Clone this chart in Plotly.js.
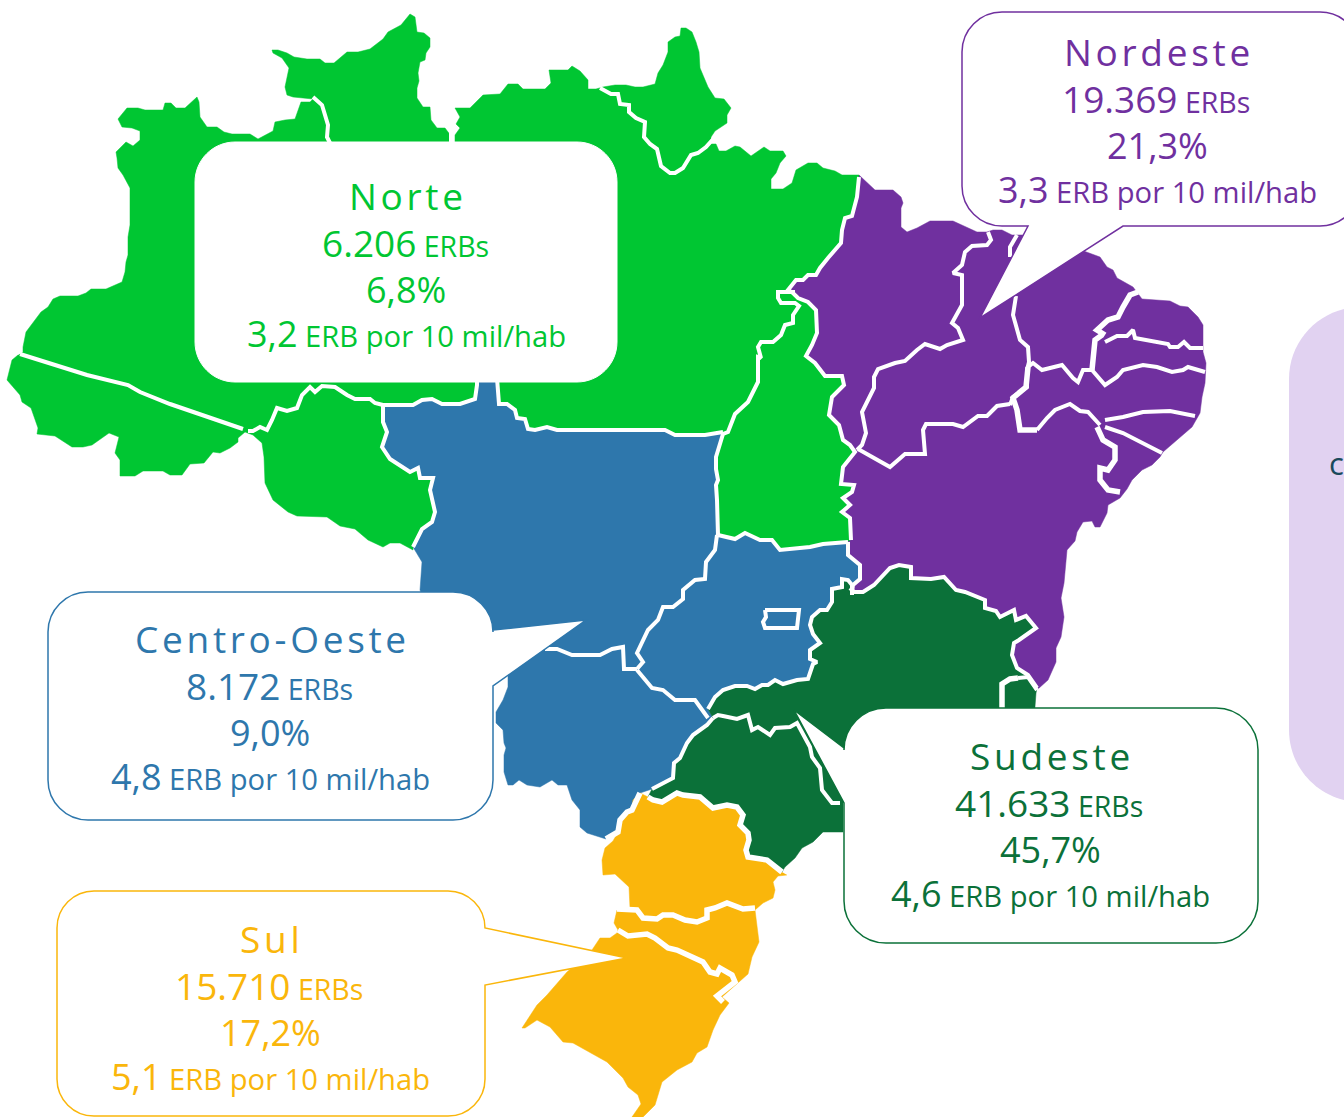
<!DOCTYPE html>
<html><head><meta charset="utf-8">
<script src="https://cdn.plot.ly/plotly-3.0.1.min.js"></script>
<style>html,body{margin:0;padding:0;background:#fff}#c{width:1344px;height:1117px}</style></head>
<body><div id="c"></div>
<script>
// ---------- statistics ----------
const regionNames = ["Norte","Nordeste","Centro-Oeste","Sudeste","Sul"];
const erbCounts   = ["6.206","19.369","8.172","41.633","15.710"];
const erbShares   = ["6,8%","21,3%","9,0%","45,7%","17,2%"];
const erbDensity  = ["3,2","3,3","4,8","4,6","5,1"];
const regionColors= ["#00C632","#70309F","#2E77AC","#0B7139","#FAB60B"];

// ---------- map outlines: flat lists x,y,x,y... ----------
const northOuter = [23,352,23,347,26,332,41,312,48,307,53,299,60,296,78,296,86,293,91,289,106,289,122,282,125,272,126,262,128,255,128,237,130,225,130,188,123,175,118,168,117,158,116,152,126,142,133,146,140,140,140,131,132,128,122,127,118,119,127,108,138,108,145,110,163,110,165,103,171,103,176,108,185,108,197,97,199,102,200,117,207,127,217,127,224,132,232,134,250,134,258,139,273,131,275,122,285,120,295,119,301,102,310,102,313,99,293,97,287,95,285,87,289,68,282,58,273,53,272,50,278,50,287,53,294,57,307,59,320,59,325,63,334,63,347,52,358,52,370,49,383,39,388,32,401,25,410,14,415,17,417,32,424,33,430,38,430,47,426,53,425,60,420,62,418,73,419,81,417,88,417,98,423,107,430,107,431,120,437,128,445,128,448,132,451,136,451,145,455,145,455,135,460,128,456,124,460,117,455,108,470,108,483,95,500,94,508,84,518,84,523,89,545,89,551,83,549,70,568,70,572,66,580,71,588,80,588,89,596,89,603,87,615,85,626,85,635,87,643,87,655,84,658,73,663,65,668,52,668,42,675,37,680,36,681,28,686,28,692,32,696,42,699,52,700,68,708,87,715,98,724,99,731,108,727,115,727,123,715,131,711,137,711,144,716,144,719,151,726,151,735,146,740,147,751,156,764,147,770,151,783,151,786,156,780,163,776,173,771,179,771,189,783,189,792,183,796,170,808,163,817,163,823,168,835,171,842,175,859,175];
const northNortheast = [859,177,857,197,852,216,845,218,842,230,841,243,828,258,820,268,816,275,808,275,803,280,796,280,788,290,793,293,798,298,808,302,816,310,817,333,812,345,806,356,815,363,825,376,842,376,844,385,832,397,829,415,839,425,843,440,850,445,855,452,843,467,841,484,854,485,852,492,843,498,850,505,842,512,850,518,851,540];
const tocantinsSouth = [848,542,823,544,810,547,795,549,780,550,772,540,760,540,745,533,735,539,718,535];
const tocantinsWest = [718,535,718,519,717,500,716,485,718,480,716,469,716,457,723,434,728,432,735,414,748,402,758,382,758,357,761,358,758,347,761,342,773,342,781,335,785,325,793,323,793,315,799,306,795,303,781,303,778,298,778,292,795,292];
const northCentralWest = [723,432,705,435,675,435,665,430,557,430,547,427,535,430,528,429,525,419,517,418,515,410,507,404,499,404,497,385,497,378,477,378,477,385,475,399,460,404,442,404,432,399,422,400,413,405,383,405,383,422,387,432,382,447,390,459,405,469,410,472,418,468,420,478,433,478,430,490,435,512,432,522,422,529,413,547];
const northSouthEdge = [413,550,408,547,400,543,390,543,383,547,368,540,355,529,340,526,327,517,297,516,288,512,273,500,265,483,264,457,262,443,253,435,245,432,238,438,238,442,230,448,220,453,213,452,204,463,190,464,182,475,170,475,163,471,143,471,135,476,120,476,120,460,115,453,119,437,109,433,92,445,83,447,72,447,55,436,37,434,38,428,31,408,22,402,20,395,7,380,12,360,18,355];
const centralWestEdge = [413,547,422,562,420,590,440,640,508,660,508,687,503,700,496,712,496,723,503,730,504,743,506,748,504,755,504,772,508,785,513,785,519,780,527,785,540,787,552,780,558,785,567,785,572,800,580,810,580,827,587,833,606,839,618,832,620,820,627,812,632,810,633,800,640,793,652,789];
const centralSoutheast = [652,789,673,778,674,763,680,758,687,743,693,735,707,725,713,718];
const goiasSoutheast = [708,709,715,697,723,690,735,686,747,686,755,689,762,685,768,685,775,680,783,684,797,680,808,679,813,664,817,662,810,659,810,650,820,643,813,634,810,625,812,617,820,610,827,610,832,602,832,589,842,587,842,579,848,580,852,585,852,595];
const goiasNortheast = [848,542,848,555,860,565,860,579,853,585,852,592];
const bahiaSouth = [850,588,854,592,863,592,874,585,890,568,899,565,911,567,911,578,931,579,944,577,956,590,965,592,985,600,985,608,996,611,1000,617,1014,610,1016,620,1026,616,1036,628,1019,640,1014,643,1012,655,1017,668,1028,675,1037,688];
const northeastCoast = [859,175,862,178,875,190,893,190,901,197,903,203,901,208,901,227,907,232,917,228,930,221,953,221,962,225,977,232,987,232,993,230,1002,230,1012,235,1040,235,1085,252,1100,257,1107,267,1113,270,1117,278,1133,287,1142,299,1170,301,1180,306,1188,307,1198,317,1203,325,1203,352,1206,363,1205,383,1202,397,1200,413,1192,427,1163,452,1160,457,1152,465,1142,470,1132,480,1127,489,1120,498,1108,505,1107,513,1100,527,1095,527,1092,521,1083,522,1077,532,1075,541,1067,550,1064,583,1061,598,1064,617,1061,637,1056,648,1056,662,1048,680,1038,689];
const southeastCoast = [1037,688,1036,693,1034,720,900,720,843,748,843,832,823,832,813,842,802,848,795,858,785,867,782,872];
const parSaoPaulo = [782,872,773,864,767,860,748,857,746,850,749,840,748,833,740,825,743,815,737,807,727,805,713,808,707,803,700,797,683,795,677,793,662,802,653,800,648,797];
const southOuter = [787,875,778,876,773,882,775,890,773,898,763,903,755,910,757,927,759,942,752,957,748,974,722,997,729,1003,720,1015,713,1030,707,1047,697,1053,692,1062,677,1070,662,1082,655,1105,643,1117,632,1117,641,1104,638,1095,628,1087,623,1078,607,1062,573,1043,563,1042,550,1027,537,1020,525,1028,522,1028,537,1005,547,995,567,972,592,950,600,938,610,938,617,933,618,930,614,923,617,910,630,908,629,887,615,874,603,875,602,860,605,848,613,841,618,832,620,820,627,812,632,810,633,800,640,793,648,797];

// ---------- internal state borders ----------
const borderAcre = [20,354,63,367,87,375,128,385,140,392,170,404,243,429];
const borderRondonia = [248,431,253,431,260,427,267,430,272,420,277,408,287,411,297,408,302,395,310,387,315,392,322,386,335,387,347,395,355,399,370,399,375,403,383,405];
const borderRoraima = [313,97,322,105,328,125,327,137,330,143];
const borderRoraimaPara = [451,133,451,145];
const borderAmapa = [600,88,611,94,618,94,620,104,629,105,629,112,636,118,645,122,644,137,650,144,657,149,661,166,670,173,675,173,683,168,691,155,698,153,706,147,715,137];
const borderMaranhao = [988,232,991,240,987,245,972,246,965,252,962,265,953,273,962,275,962,305,952,323,958,328,963,340,947,345,940,349,925,344,917,350,905,361,895,363,878,369,874,377,874,388,862,412,866,433,862,445,857,450];
const borderPiauiSouth = [858,449,875,458,890,467,905,454,925,454,923,430,926,424,953,424,963,427,978,416,987,416,997,406,1010,404];
const borderPiaui = [1016,296,1013,315,1020,340,1028,347,1029,362,1027,370,1027,387,1013,397,1010,405];
const borderCoastSliver = [1017,235,1010,247,1010,257];
const borderCearaNorth = [1138,292,1130,295,1123,307,1118,317,1108,320,1097,330,1105,335];
const borderCearaSouth = [1102,335,1095,340,1092,370];
const borderCearaPb = [1092,370,1083,370,1078,382,1073,378,1062,365,1055,367,1042,370,1033,363,1028,367];
const borderRioNorte = [1105,342,1117,336,1127,336,1133,330,1135,338,1168,344,1170,347,1178,347,1184,342,1190,348,1203,348];
const borderParaiba = [1092,370,1105,385,1117,377,1123,370,1143,365,1157,367,1172,372,1183,370,1188,367,1205,372];
const borderPernambucoWest = [1028,367,1026,387,1013,398,1017,410,1020,430,1037,430];
const borderPernambuco = [1037,430,1047,418,1055,410,1070,404,1080,411,1088,412,1100,425];
const borderAlagoasNorth = [1105,420,1123,417,1143,412,1170,411,1195,416];
const borderAlagoas = [1105,427,1123,433,1162,453];
const borderSergipe = [1097,427,1103,440,1115,447,1115,460,1108,470,1100,468,1100,480,1108,490,1120,492];
const borderGoiasMT = [717,535,715,550,706,562,705,579,695,580,683,590,683,599,673,607,663,607,658,620,648,630,637,653,643,662,637,669];
const borderMSMT = [545,649,557,649,572,655,600,655,612,649,623,647,624,669,637,669];
const borderMSGO = [637,670,652,688,663,690,675,700,695,700,703,712,708,718];
const borderDF = [765,610,799,610,797,628,765,628,763,622,766,617,765,610];
const borderMGSP = [713,718,718,715,723,716,737,719,748,715,752,730,758,727,770,735,775,728,790,727,797,723,810,747,812,757,820,768,822,790,827,797,832,803,840,803];
const borderES = [1002,708,1002,684,1010,679,1018,678];
const borderESNorth = [1018,678,1028,677,1037,690];
const borderPRSC = [617,909,625,909,637,910,643,918,657,919,663,915,673,915,685,920,697,922,707,918,707,910,715,908,727,903,743,909,755,908];
const borderSCRS = [618,930,628,936,647,934,655,938,668,948,677,950,703,962,710,972,717,974,720,968,732,975,735,982,717,996,723,1002];
const borderMSPR = [640,793,632,810,627,812,620,820,618,832,606,839];

// ---------- small helpers ----------
const xs = a => a.filter((_, i) => i % 2 === 0);
const ys = a => a.filter((_, i) => i % 2 === 1);
const rev = a => { const o = []; for (let i = a.length - 2; i >= 0; i -= 2) o.push(a[i], a[i + 1]); return o; };
const WHITE = "#FFFFFF";

const fillTrace = (pts, color) => ({
  type: "scatter", mode: "lines", x: xs(pts), y: ys(pts), fill: "toself",
  fillcolor: color, line: {color: color, width: 0.5}, hoverinfo: "skip", showlegend: false
});
const lineTrace = (pts, w) => ({
  type: "scatter", mode: "lines", x: xs(pts), y: ys(pts),
  line: {color: WHITE, width: w}, hoverinfo: "skip", showlegend: false
});

const norte = [...northOuter, ...northNortheast, ...tocantinsSouth, ...tocantinsWest.slice(2, 16), ...northCentralWest, ...northSouthEdge];
const nordeste = [...northeastCoast, ...rev(bahiaSouth), ...rev(goiasNortheast), ...rev(northNortheast)];
const centro = [...northCentralWest, ...centralWestEdge, ...centralSoutheast, ...goiasSoutheast, ...rev(goiasNortheast), ...tocantinsSouth, 716,457, 723,434];
const sudeste = [...rev(goiasSoutheast), ...rev(centralSoutheast), ...rev(parSaoPaulo), ...rev(southeastCoast), ...rev(bahiaSouth)];
const sul = [...southOuter, ...rev(parSaoPaulo)];

const normalBorders = [
  northNortheast, tocantinsSouth, tocantinsWest, northCentralWest, centralSoutheast, goiasSoutheast,
  goiasNortheast, bahiaSouth, borderAcre, borderRondonia, borderRoraima, borderRoraimaPara,
  borderAmapa, borderMaranhao, borderPiauiSouth, borderPiaui, borderCoastSliver, borderCearaPb,
  borderRioNorte, borderParaiba, borderPernambuco, borderAlagoasNorth, borderAlagoas, borderGoiasMT,
  borderMSMT, borderMSGO, borderDF, borderMGSP, borderESNorth
];
const thickBorders = [
  parSaoPaulo, borderCearaNorth, borderCearaSouth, borderPernambucoWest, borderSergipe,
  borderES, borderPRSC, borderSCRS, borderMSPR
];

const data = [
  fillTrace(norte, regionColors[0]),
  fillTrace(nordeste, regionColors[1]),
  fillTrace(centro, regionColors[2]),
  fillTrace(sudeste, regionColors[3]),
  fillTrace(sul, regionColors[4]),
  ...normalBorders.map(b => lineTrace(b, 4)),
  ...thickBorders.map(b => lineTrace(b, 5.5))
];

// ---------- callouts ----------
const K = 0.5523;
const box = (l, t, r, b, rad, ptr) => {
  const c = rad * (1 - K);
  const v = side => (ptr && ptr.side === side) ? ptr.v.map(q => `L${q[0]},${q[1]}`).join(" ") + " " : "";
  return `M${l + rad},${t} L${r - rad},${t} C${r - c},${t} ${r},${t + c} ${r},${t + rad} ` + v("r") +
    `L${r},${b - rad} C${r},${b - c} ${r - c},${b} ${r - rad},${b} ` + v("b") +
    `L${l + rad},${b} C${l + c},${b} ${l},${b - c} ${l},${b - rad} ` + v("l") +
    `L${l},${t + rad} C${l},${t + c} ${l + c},${t} ${l + rad},${t} Z`;
};
const shape = (path, stroke, w, fill) => ({
  type: "path", path, xref: "x", yref: "y", layer: "above",
  fillcolor: fill || WHITE, line: {color: stroke, width: w === undefined ? 1.5 : w}
});
const shapes = [
  shape(box(1289, 307, 1440, 802, 72), "#E1D2F1", 0, "#E1D2F1"),
  shape(box(195, 142, 617, 382, 40), WHITE, 1),
  shape(box(962, 12, 1360, 226, 40, {side: "b", v: [[1123,226],[980,318],[1028,226]]}), regionColors[1]),
  shape(box(48, 592, 493, 820, 40, {side: "r", v: [[493,630],[586,620],[493,686]]}), regionColors[2]),
  shape(box(844, 708, 1258, 943, 42, {side: "l", v: [[844,803],[794,710],[844,748]]}), regionColors[3]),
  shape(box(57, 891, 485, 1116, 37, {side: "r", v: [[485,928],[627,958],[485,985]]}), regionColors[4])
];

// ---------- texts ----------
const centers = [[406,195],[1157,51],[270,638],[1050,755],[270,938]];
const FONT = '"Open Sans","Noto Sans",sans-serif';
const note = (x, y, text, size, color, anchor) => ({
  x, y, xref: "x", yref: "y", text, showarrow: false, xanchor: anchor || "center", yanchor: "middle",
  font: {family: FONT, size, color}
});
const annotations = [];
regionNames.forEach((n, i) => {
  const [cx, cy] = centers[i], col = regionColors[i];
  annotations.push(note(cx, cy, n.split("").join("\u200A"), 37, col));
  annotations.push(note(cx - 1, cy + 47, `<span style="font-size:37px">${erbCounts[i]}</span> ERBs`, 28.5, col));
  annotations.push(note(cx, cy + 94, erbShares[i], 36, col));
  annotations.push(note(cx, cy + 138, `<span style="font-size:36px">${erbDensity[i]}</span> ERB por 10 mil/hab`, 29.2, col));
});
annotations.push(note(1327, 463, "c", 31, "#1A4A5C", "left"));

const layout = {
  width: 1344, height: 1117, margin: {l: 0, r: 0, t: 0, b: 0},
  paper_bgcolor: WHITE, plot_bgcolor: WHITE, showlegend: false,
  xaxis: {range: [0, 1344], visible: false, fixedrange: true},
  yaxis: {range: [1117, 0], visible: false, fixedrange: true},
  shapes, annotations
};
Plotly.newPlot("c", data, layout, {displayModeBar: false, staticPlot: true});
</script></body></html>
